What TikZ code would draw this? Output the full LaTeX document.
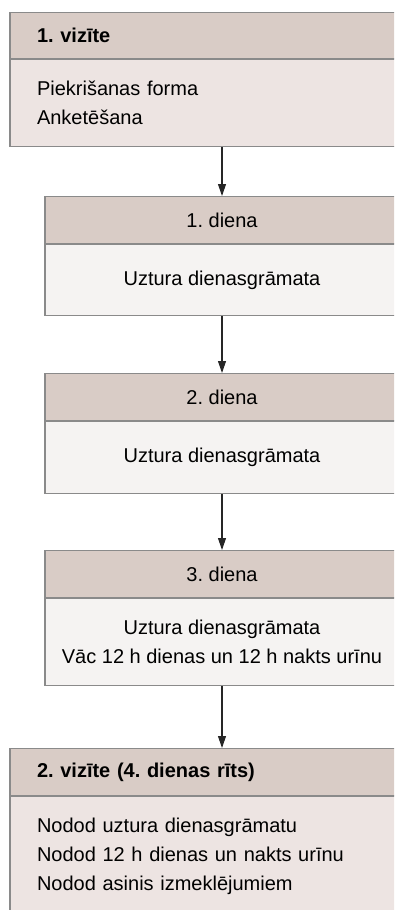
\documentclass[tikz,border=0pt]{standalone}
\usepackage{fontspec}
\setmainfont{Liberation Sans}
\usepackage{tikz}
\usetikzlibrary{arrows.meta,positioning}
\definecolor{headfill}{HTML}{D9CCC6}
\definecolor{visfill}{HTML}{EDE4E2}
\definecolor{dayfill}{HTML}{F5F3F2}
\definecolor{boxline}{HTML}{8A8A8A}
\frenchspacing

\begin{document}
\begin{tikzpicture}[>={Triangle[length=12pt,width=8pt]},x=1pt,y=1pt,
  box/.style={draw=boxline,line width=1.1pt,inner ysep=0pt,anchor=north,font=\fontsize{20}{29}\selectfont},
  vhead/.style={box,fill=headfill,text width=370pt,inner xsep=27pt,align=left,minimum height=46pt,font=\fontsize{20}{29}\selectfont\bfseries},
  vbody/.style={box,fill=visfill,text width=370pt,inner xsep=27pt,align=left},
  dhead/.style={box,fill=headfill,minimum width=354pt,align=center,minimum height=47pt},
  dbody/.style={box,fill=dayfill,minimum width=354pt,align=center},
  arr/.style={->,line width=1.1pt,draw=black!85}]
\useasboundingbox (0,0) rectangle (394,-910);
\clip (0,0) rectangle (394,-910);
% visit 1
\node[vhead] (v1h) at (222,-12) {1. vizīte};
\node[vbody,minimum height=87pt,below=0pt of v1h] (v1b) {Piekrišanas forma\\Anketēšana};
% days
\node[dhead] (d1h) at (222,-196) {1. diena};
\node[dbody,minimum height=71pt,below=0pt of d1h] (d1b) {Uztura dienasgrāmata};
\node[dhead] (d2h) at (222,-373) {2. diena};
\node[dbody,minimum height=72pt,below=0pt of d2h] (d2b) {Uztura dienasgrāmata};
\node[dhead] (d3h) at (222,-550) {3. diena};
\node[dbody,minimum height=87pt,below=0pt of d3h] (d3b) {Uztura dienasgrāmata\\Vāc 12 h dienas un 12 h nakts urīnu};
% visit 2
\node[vhead,minimum height=47pt] (v2h) at (222,-748) {2. vizīte (4. dienas rīts)};
\node[vbody,minimum height=120pt,below=0pt of v2h] (v2b) {Nodod uztura dienasgrāmatu\\Nodod 12 h dienas un nakts urīnu\\Nodod asinis izmeklējumiem};
% arrows
\draw[arr] (v1b) -- (d1h);
\draw[arr] (d1b) -- (d2h);
\draw[arr] (d2b) -- (d3h);
\draw[arr] (d3b) -- (v2h);
\end{tikzpicture}
\end{document}
